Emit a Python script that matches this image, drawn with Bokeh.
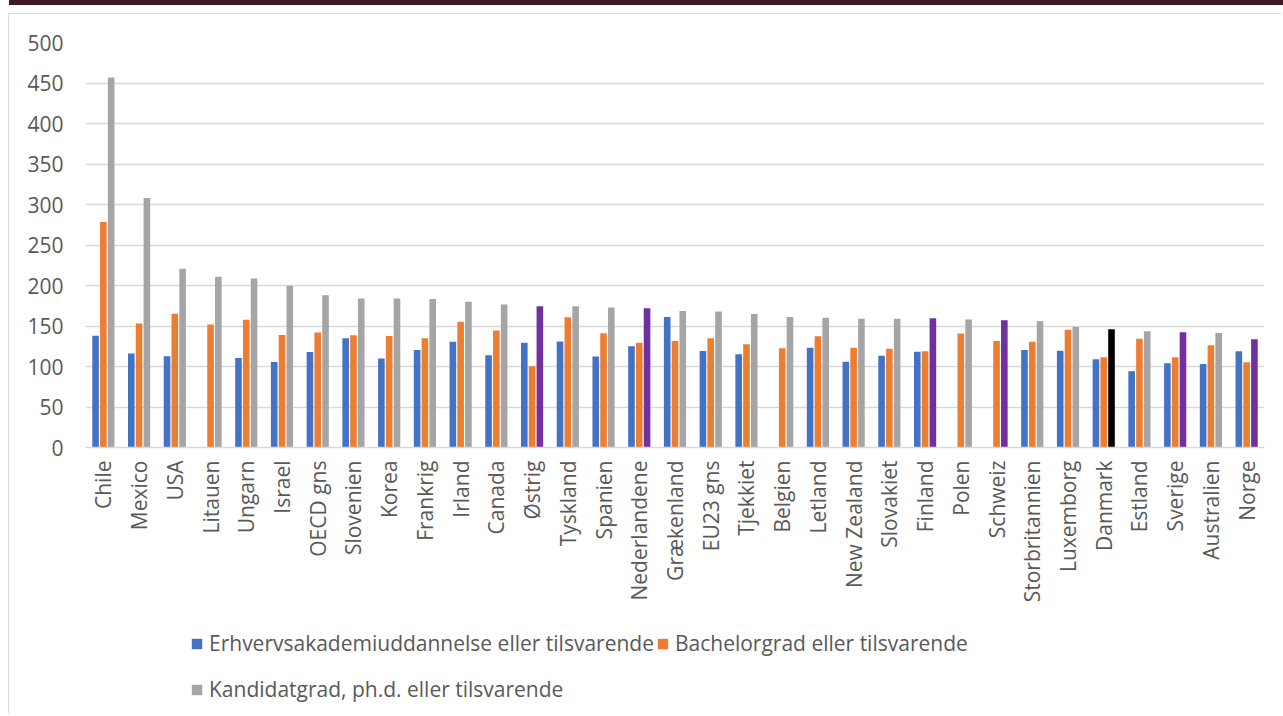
import math
import numpy as np
from bokeh.plotting import figure
from bokeh.models import (ColumnDataSource, FactorRange, Range1d, FixedTicker,
                          Legend, LegendItem, Spacer, Div)
from bokeh.layouts import column, row
from bokeh.transform import dodge
from bokeh.embed import file_html
from bokeh.resources import INLINE

NaN = float("nan")

countries = ["Chile", "Mexico", "USA", "Litauen", "Ungarn", "Israel", "OECD gns",
             "Slovenien", "Korea", "Frankrig", "Irland", "Canada", "Østrig",
             "Tyskland", "Spanien", "Nederlandene", "Grækenland", "EU23 gns",
             "Tjekkiet", "Belgien", "Letland", "New Zealand", "Slovakiet",
             "Finland", "Polen", "Schweiz", "Storbritannien", "Luxemborg",
             "Danmark", "Estland", "Sverige", "Australien", "Norge"]

erhverv = [138, 116, 112.6, NaN, 110.6, 105.6, 118, 134.8, 110, 120.4, 130.7,
           113.8, 129.4, 131, 112.5, 125, 161.2, 119.1, 115, NaN, 123.2, 105.9,
           113.4, 118.3, NaN, NaN, 120.4, 119.5, 108.8, 94, 103.9, 103, 118.7]

bachelor = [278.5, 153, 165, 151.8, 157.6, 139, 142, 138.5, 137.7, 134.8, 155.4,
            144.3, 100.2, 160.8, 141, 129.4, 131.5, 134.8, 127.4, 122.4, 137.3,
            123.2, 122, 118.7, 140.6, 131.5, 130.7, 145.5, 111.3, 134.4, 111.3,
            126.1, 105.1]

kandidat = [456.7, 308, 220.7, 210.8, 208.7, 199.7, 188, 184, 184, 183.4, 180,
            176.4, 174.4, 174.4, 172.7, 171.9, 168.6, 167.8, 164.9, 161.2, 160.3,
            159.1, 159.1, 159.5, 157.9, 157, 155.8, 148.8, 145.9, 143.4, 142.2,
            141.4, 133.6]

series_labels = ["Erhvervsakademiuddannelse eller tilsvarende",
                 "Bachelorgrad eller tilsvarende",
                 "Kandidatgrad, ph.d. eller tilsvarende"]

y_ticks = [0, 50, 100, 150, 200, 250, 300, 350, 400, 450, 500]

purple_countries = ["Østrig", "Nederlandene", "Finland", "Schweiz", "Sverige", "Norge"]
black_countries = ["Danmark"]

BLUE, ORANGE, GRAY, PURPLE, BLACK = "#4472C4", "#ED7D31", "#A5A5A5", "#7030A0", "#000000"
TEXT = "#595959"
GRID = "#D9D9D9"
BAND = "#43172A"
FONT = "Open Sans"
FSIZE = "21px"

k_colors = [PURPLE if c in purple_countries else BLACK if c in black_countries else GRAY
            for c in countries]

src = ColumnDataSource(data=dict(
    country=countries,
    erhverv=np.array(erhverv, dtype=float),
    bachelor=np.array(bachelor, dtype=float),
    kandidat=np.array(kandidat, dtype=float),
    kcolor=k_colors,
))

# ---------------- main chart ----------------
p = figure(x_range=FactorRange(factors=countries), y_range=Range1d(0, 500),
           width=1273, height=601, output_backend="svg", toolbar_location=None,
           min_border_left=76, min_border_right=18, min_border_top=28,
           min_border_bottom=168)

off = 0.218
bw = 0.185
p.vbar(x=dodge("country", -off, range=p.x_range), top="erhverv", width=bw,
       source=src, fill_color=BLUE, line_color=None)
p.vbar(x=dodge("country", 0, range=p.x_range), top="bachelor", width=bw,
       source=src, fill_color=ORANGE, line_color=None)
p.vbar(x=dodge("country", off, range=p.x_range), top="kandidat", width=bw,
       source=src, fill_color="kcolor", line_color=None)

p.outline_line_color = None
p.background_fill_color = "white"
p.border_fill_color = "white"

p.xgrid.grid_line_color = None
p.ygrid.grid_line_color = GRID
p.ygrid.grid_line_width = 1.5

p.yaxis.ticker = FixedTicker(ticks=y_ticks)
p.yaxis.axis_line_color = None
p.yaxis.major_tick_line_color = None
p.yaxis.minor_tick_line_color = None
p.yaxis.major_tick_out = 0
p.yaxis.major_label_standoff = 22
p.yaxis.major_label_text_font = FONT
p.yaxis.major_label_text_font_size = FSIZE
p.yaxis.major_label_text_color = TEXT

p.xaxis.axis_line_color = GRID
p.xaxis.axis_line_width = 1.5
p.xaxis.major_tick_line_color = None
p.xaxis.minor_tick_line_color = None
p.xaxis.major_tick_out = 0
p.xaxis.major_label_orientation = math.pi / 2
p.xaxis.major_label_standoff = 13
p.xaxis.major_label_text_font = FONT
p.xaxis.major_label_text_font_size = FSIZE
p.xaxis.major_label_text_color = TEXT

p.styles = {"border-left": "1px solid #D9D9D9", "border-top": "1px solid #D9D9D9"}

# ---------------- legend strip ----------------
pl = figure(width=1273, height=99, output_backend="svg", toolbar_location=None,
            x_range=Range1d(0, 1), y_range=Range1d(0, 1),
            min_border_left=0, min_border_right=0, min_border_top=0,
            min_border_bottom=0)
pl.axis.visible = False
pl.grid.visible = False
pl.outline_line_color = None
pl.background_fill_color = "white"
pl.border_fill_color = "white"
pl.styles = {"border-left": "1px solid #D9D9D9"}

series_colors = [BLUE, ORANGE, GRAY]
# zero-size anchor glyphs, only used as legend swatches
swatches = [pl.vbar(x=[0], top=[0], width=0, fill_color=c, line_color=None)
            for c in series_colors]


def style_legend(leg, spacing):
    leg.label_text_font = FONT
    leg.label_text_font_size = FSIZE
    leg.label_text_color = TEXT
    leg.glyph_width = 13
    leg.glyph_height = 13
    leg.label_height = 30
    leg.label_standoff = 6
    leg.spacing = spacing
    leg.padding = 0
    leg.margin = 0
    leg.border_line_color = None
    leg.background_fill_alpha = 0


leg1 = Legend(items=[LegendItem(label=series_labels[0], renderers=[swatches[0]]),
                     LegendItem(label=series_labels[1], renderers=[swatches[1]])],
              orientation="horizontal", location=(105, 55))
leg2 = Legend(items=[LegendItem(label=series_labels[2], renderers=[swatches[2]])],
              location=(105, 9))
style_legend(leg1, 2)
style_legend(leg2, 8)
pl.add_layout(leg1)
pl.add_layout(leg2)

# ---------------- top band ----------------
band = Div(text="", width=1274, height=5, margin=(0, 0, 0, 0),
           styles={"background-color": BAND})

layout = column(
    row(Spacer(width=9, height=5), band),
    Spacer(width=10, height=8),
    row(Spacer(width=8, height=700), column(p, pl)),
)

open("out.html", "w").write(file_html(layout, INLINE))
